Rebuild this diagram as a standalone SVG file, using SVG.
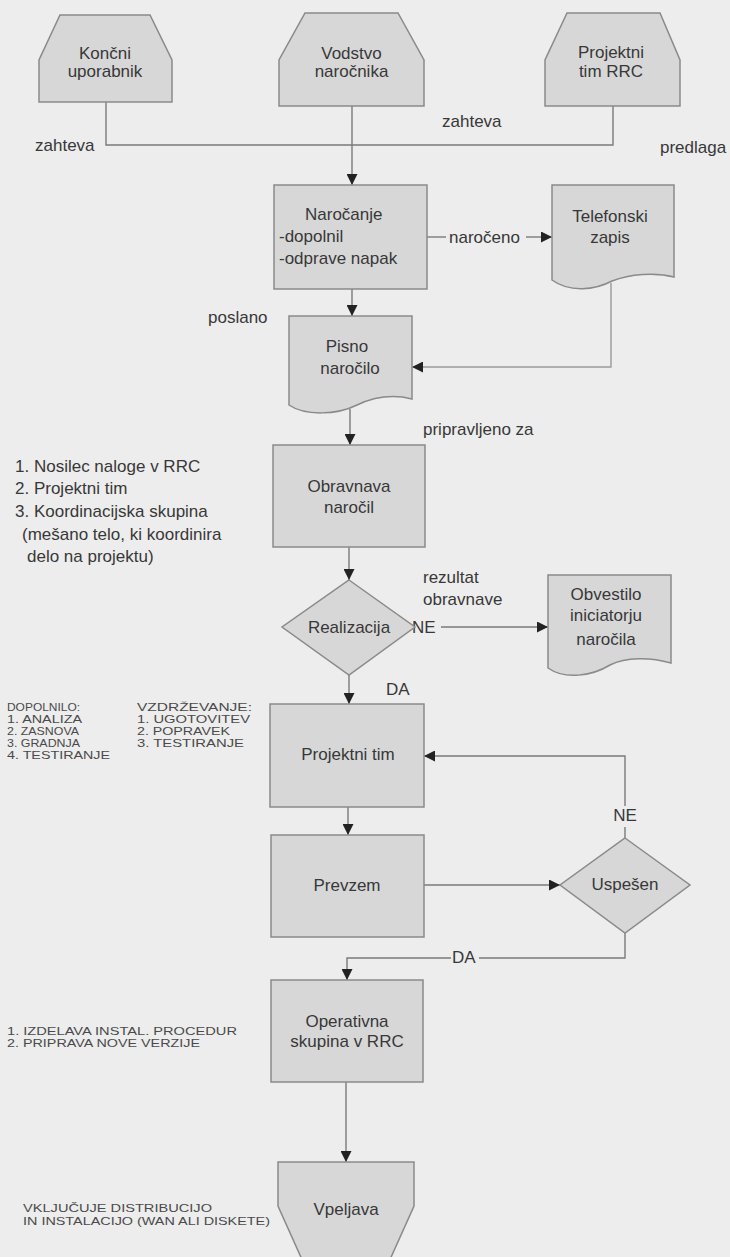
<svg xmlns="http://www.w3.org/2000/svg" width="730" height="1257" viewBox="0 0 730 1257">
<style>
.bg{fill:#ededed}
.node{fill:#d7d7d7;stroke:#8a8a8a;stroke-width:1.5}
.t{font-family:"Liberation Sans",Arial,sans-serif;font-size:17px;fill:#383838}
.c{text-anchor:middle}
.s{font-family:"Liberation Sans",Arial,sans-serif;font-size:11px;fill:#4a4a4a}
.ln{fill:none;stroke:#7a7a7a;stroke-width:1.4}
.lna{fill:none;stroke:#7a7a7a;stroke-width:1.4;marker-end:url(#ah)}
.lt{stroke:#9a9a9a}
</style>
<defs>
<marker id="ah" markerUnits="userSpaceOnUse" markerWidth="12" markerHeight="11" refX="11" refY="5.5" orient="auto">
<path d="M0,0 L11,5.5 L0,11 Z" fill="#222"/>
</marker>
</defs>
<rect class="bg" x="0" y="0" width="730" height="1257"/>

<g id="connectors">
<path class="ln" d="M106,102 V145 H352"/>
<path class="ln" d="M613,106 V145 H352"/>
<path class="lna" d="M352,106 V185"/>
<path class="ln" d="M427,237 H446"/>
<path class="lna" d="M526,237 H552"/>
<path class="lna" d="M352,289 V316"/>
<path class="lna lt" d="M611,283 V367 H412"/>
<path class="lna" d="M350,409 V445"/>
<path class="lna" d="M349,547 V580"/>
<path class="lna" d="M441,627 H548"/>
<path class="lna" d="M349,675 V704"/>
<path class="lna" d="M348,807 V835"/>
<path class="lna" d="M424,885 H560"/>
<path class="ln" d="M625,838 V827"/>
<path class="lna" d="M625,806 V756 H424"/>
<path class="ln" d="M625,933 V958 H479"/>
<path class="lna" d="M451,958 H347 V980"/>
<path class="lna" d="M346,1082 V1162"/>
<text class="t" x="35" y="151">zahteva</text>
<text class="t" x="442" y="127">zahteva</text>
<text class="t" x="660" y="153">predlaga</text>
<text class="t" x="449" y="243">naročeno</text>
<text class="t" x="208" y="323">poslano</text>
<text class="t" x="423" y="435">pripravljeno za</text>
<text class="t" x="423" y="583">rezultat</text>
<text class="t" x="423" y="605">obravnave</text>
<text class="t" x="412" y="633">NE</text>
<text class="t" x="386" y="695">DA</text>
<text class="t c" x="625" y="821">NE</text>
<text class="t" x="452" y="963">DA</text>
</g>

<g id="koncni-uporabnik">
<path class="node" d="M60,15 H150 L172,60 V102 H39 V60 Z"/>
<text class="t c" x="105" y="59">Končni</text>
<text class="t c" x="105" y="77">uporabnik</text>
</g>
<g id="vodstvo-narocnika">
<path class="node" d="M305,13 H398 L424,60 V106 H279 V60 Z"/>
<text class="t c" x="351.5" y="59">Vodstvo</text>
<text class="t c" x="351.5" y="77">naročnika</text>
</g>
<g id="projektni-tim-rrc">
<path class="node" d="M567,13 H660 L680,60 V106 H545 V60 Z"/>
<text class="t c" x="611" y="58">Projektni</text>
<text class="t c" x="611" y="77">tim RRC</text>
</g>
<g id="narocanje">
<rect class="node" x="274" y="185" width="153" height="104"/>
<text class="t" x="305" y="220">Naročanje</text>
<text class="t" x="279" y="242">-dopolnil</text>
<text class="t" x="279" y="264">-odprave napak</text>
</g>
<g id="telefonski-zapis">
<path class="node" d="M552,185 H674 V277 C655,272 630,274 612,281 C595,290 570,293 552,280 Z"/>
<text class="t c" x="610" y="222">Telefonski</text>
<text class="t c" x="610" y="243">zapis</text>
</g>
<g id="pisno-narocilo">
<path class="node" d="M289,316 H412 V399 C392,394 372,398 357,405 C337,415 305,416 289,405 Z"/>
<text class="t c" x="347" y="352">Pisno</text>
<text class="t c" x="350" y="374">naročilo</text>
</g>
<g id="obravnava-narocil">
<rect class="node" x="273" y="445" width="152" height="102"/>
<text class="t c" x="349" y="492">Obravnava</text>
<text class="t c" x="349" y="513">naročil</text>
</g>
<g id="realizacija">
<path class="node" d="M349,580 L415,627 L349,675 L282,627 Z"/>
<text class="t c" x="349" y="633">Realizacija</text>
</g>
<g id="obvestilo">
<path class="node" d="M548,575 H671 V663 C650,657 626,657 610,665 C592,676 565,680 548,668 Z"/>
<text class="t c" x="606" y="600">Obvestilo</text>
<text class="t c" x="606" y="621">iniciatorju</text>
<text class="t c" x="606" y="645">naročila</text>
</g>
<g id="projektni-tim">
<rect class="node" x="270" y="704" width="154" height="103"/>
<text class="t c" x="348" y="760">Projektni tim</text>
</g>
<g id="prevzem">
<rect class="node" x="271" y="835" width="153" height="102"/>
<text class="t c" x="347" y="891">Prevzem</text>
</g>
<g id="uspesen">
<path class="node" d="M625,838 L690,885 L625,933 L560,885 Z"/>
<text class="t c" x="625" y="890">Uspešen</text>
</g>
<g id="operativna-skupina">
<rect class="node" x="271" y="980" width="152" height="102"/>
<text class="t c" x="347" y="1027">Operativna</text>
<text class="t c" x="347" y="1047">skupina v RRC</text>
</g>
<g id="vpeljava">
<path class="node" d="M278,1162 H414 V1206 L388,1264 H304 L278,1206 Z"/>
<text class="t c" x="346" y="1215">Vpeljava</text>
</g>

<g id="notes">
<text class="t" x="15" y="472">1. Nosilec naloge v RRC</text>
<text class="t" x="15" y="494">2. Projektni tim</text>
<text class="t" x="15" y="517">3. Koordinacijska skupina</text>
<text class="t" x="22" y="540">(mešano telo, ki koordinira</text>
<text class="t" x="27" y="562">delo na projektu)</text>
<text class="s" x="7" y="711" textLength="73" lengthAdjust="spacingAndGlyphs">DOPOLNILO:</text>
<text class="s" x="7" y="723" textLength="75" lengthAdjust="spacingAndGlyphs">1. ANALIZA</text>
<text class="s" x="7" y="735" textLength="72" lengthAdjust="spacingAndGlyphs">2. ZASNOVA</text>
<text class="s" x="7" y="747" textLength="73" lengthAdjust="spacingAndGlyphs">3. GRADNJA</text>
<text class="s" x="7" y="759" textLength="103" lengthAdjust="spacingAndGlyphs">4. TESTIRANJE</text>
<text class="s" x="137" y="711" textLength="115" lengthAdjust="spacingAndGlyphs">VZDRŽEVANJE:</text>
<text class="s" x="137" y="723" textLength="113" lengthAdjust="spacingAndGlyphs">1. UGOTOVITEV</text>
<text class="s" x="137" y="735" textLength="93" lengthAdjust="spacingAndGlyphs">2. POPRAVEK</text>
<text class="s" x="137" y="747" textLength="107" lengthAdjust="spacingAndGlyphs">3. TESTIRANJE</text>
<text class="s" x="7" y="1035" textLength="230" lengthAdjust="spacingAndGlyphs">1. IZDELAVA  INSTAL. PROCEDUR</text>
<text class="s" x="7" y="1047" textLength="193" lengthAdjust="spacingAndGlyphs">2. PRIPRAVA NOVE VERZIJE</text>
<text class="s" x="23" y="1212" textLength="189" lengthAdjust="spacingAndGlyphs">VKLJUČUJE DISTRIBUCIJO</text>
<text class="s" x="23" y="1225" textLength="247" lengthAdjust="spacingAndGlyphs">IN INSTALACIJO (WAN ALI DISKETE)</text>
</g>
</svg>
